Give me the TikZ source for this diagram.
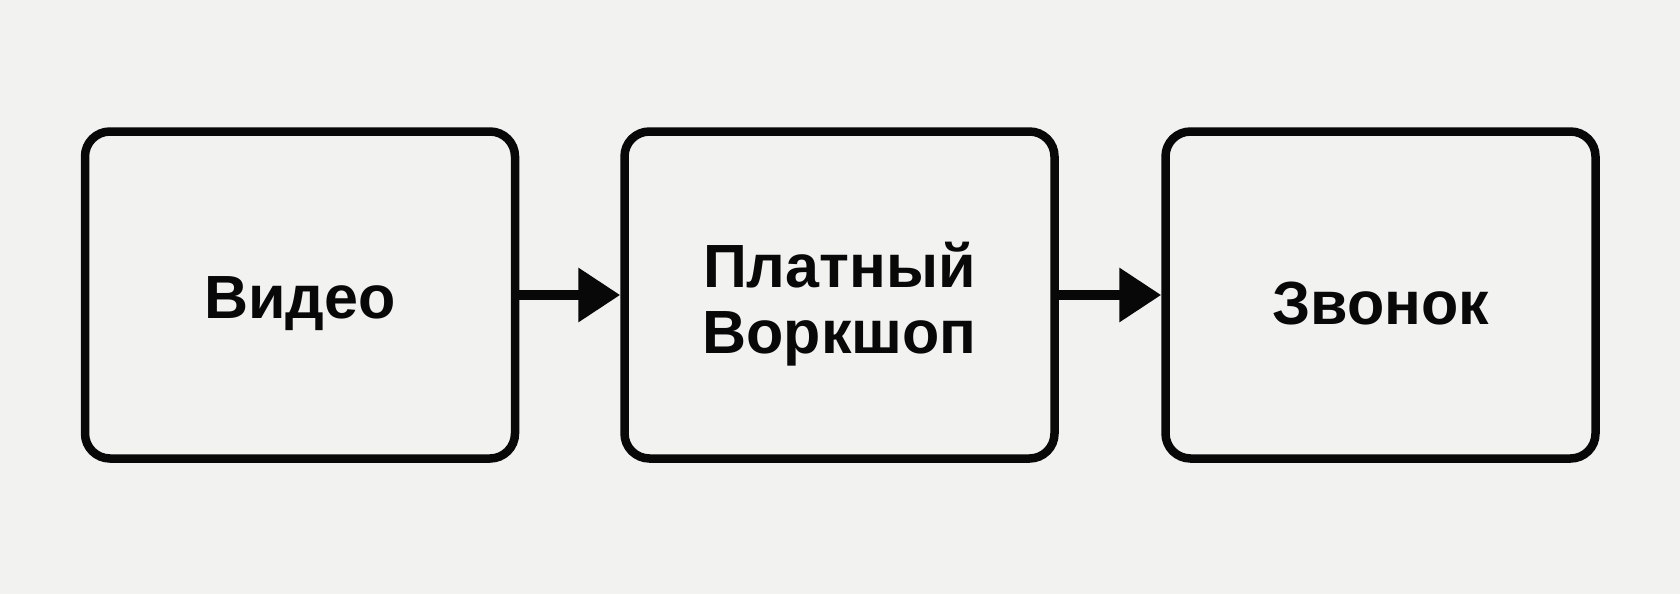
\documentclass[tikz,border=0pt]{standalone}
\usepackage{fontspec}
\setmainfont{Liberation Sans}
\usetikzlibrary{arrows.meta,calc}
\definecolor{bg}{RGB}{242,242,241}
\definecolor{ink}{RGB}{8,8,8}
\tikzset{
  stagebox/.style={draw=ink, line width=8.5pt, rounded corners=25pt,
    minimum width=430pt, minimum height=327pt},
  stagetext/.style={align=center, inner sep=0pt,
    font=\fontsize{61}{66}\selectfont\bfseries, text=ink},
  flowarrow/.style={draw=ink, line width=10pt,
    -{Triangle[length=42pt,width=52pt]}}
}
\begin{document}
\begin{tikzpicture}[x=1pt,y=-1pt]
  \fill[bg] (0,0) rectangle (1680,594);
  \useasboundingbox (0,0) rectangle (1680,594);
  \node[stagebox] (video) at (300,295) {};
  \node[stagebox] (work) at (839.5,295) {};
  \node[stagebox] (call) at (1380.5,295) {};
  \node[stagetext] (videotext) at ($(video.center)+(0,8.5)$) {Видео};
  \node[stagetext] (worktext) at ($(work.center)+(0,9)$) {Платный\\Воркшоп};
  \node[stagetext] (calltext) at ($(call.center)+(0,8.5)$) {Звонок};
  \draw[flowarrow] (video.east) -- (work.west);
  \draw[flowarrow] (work.east) -- (call.west);
\end{tikzpicture}
\end{document}
